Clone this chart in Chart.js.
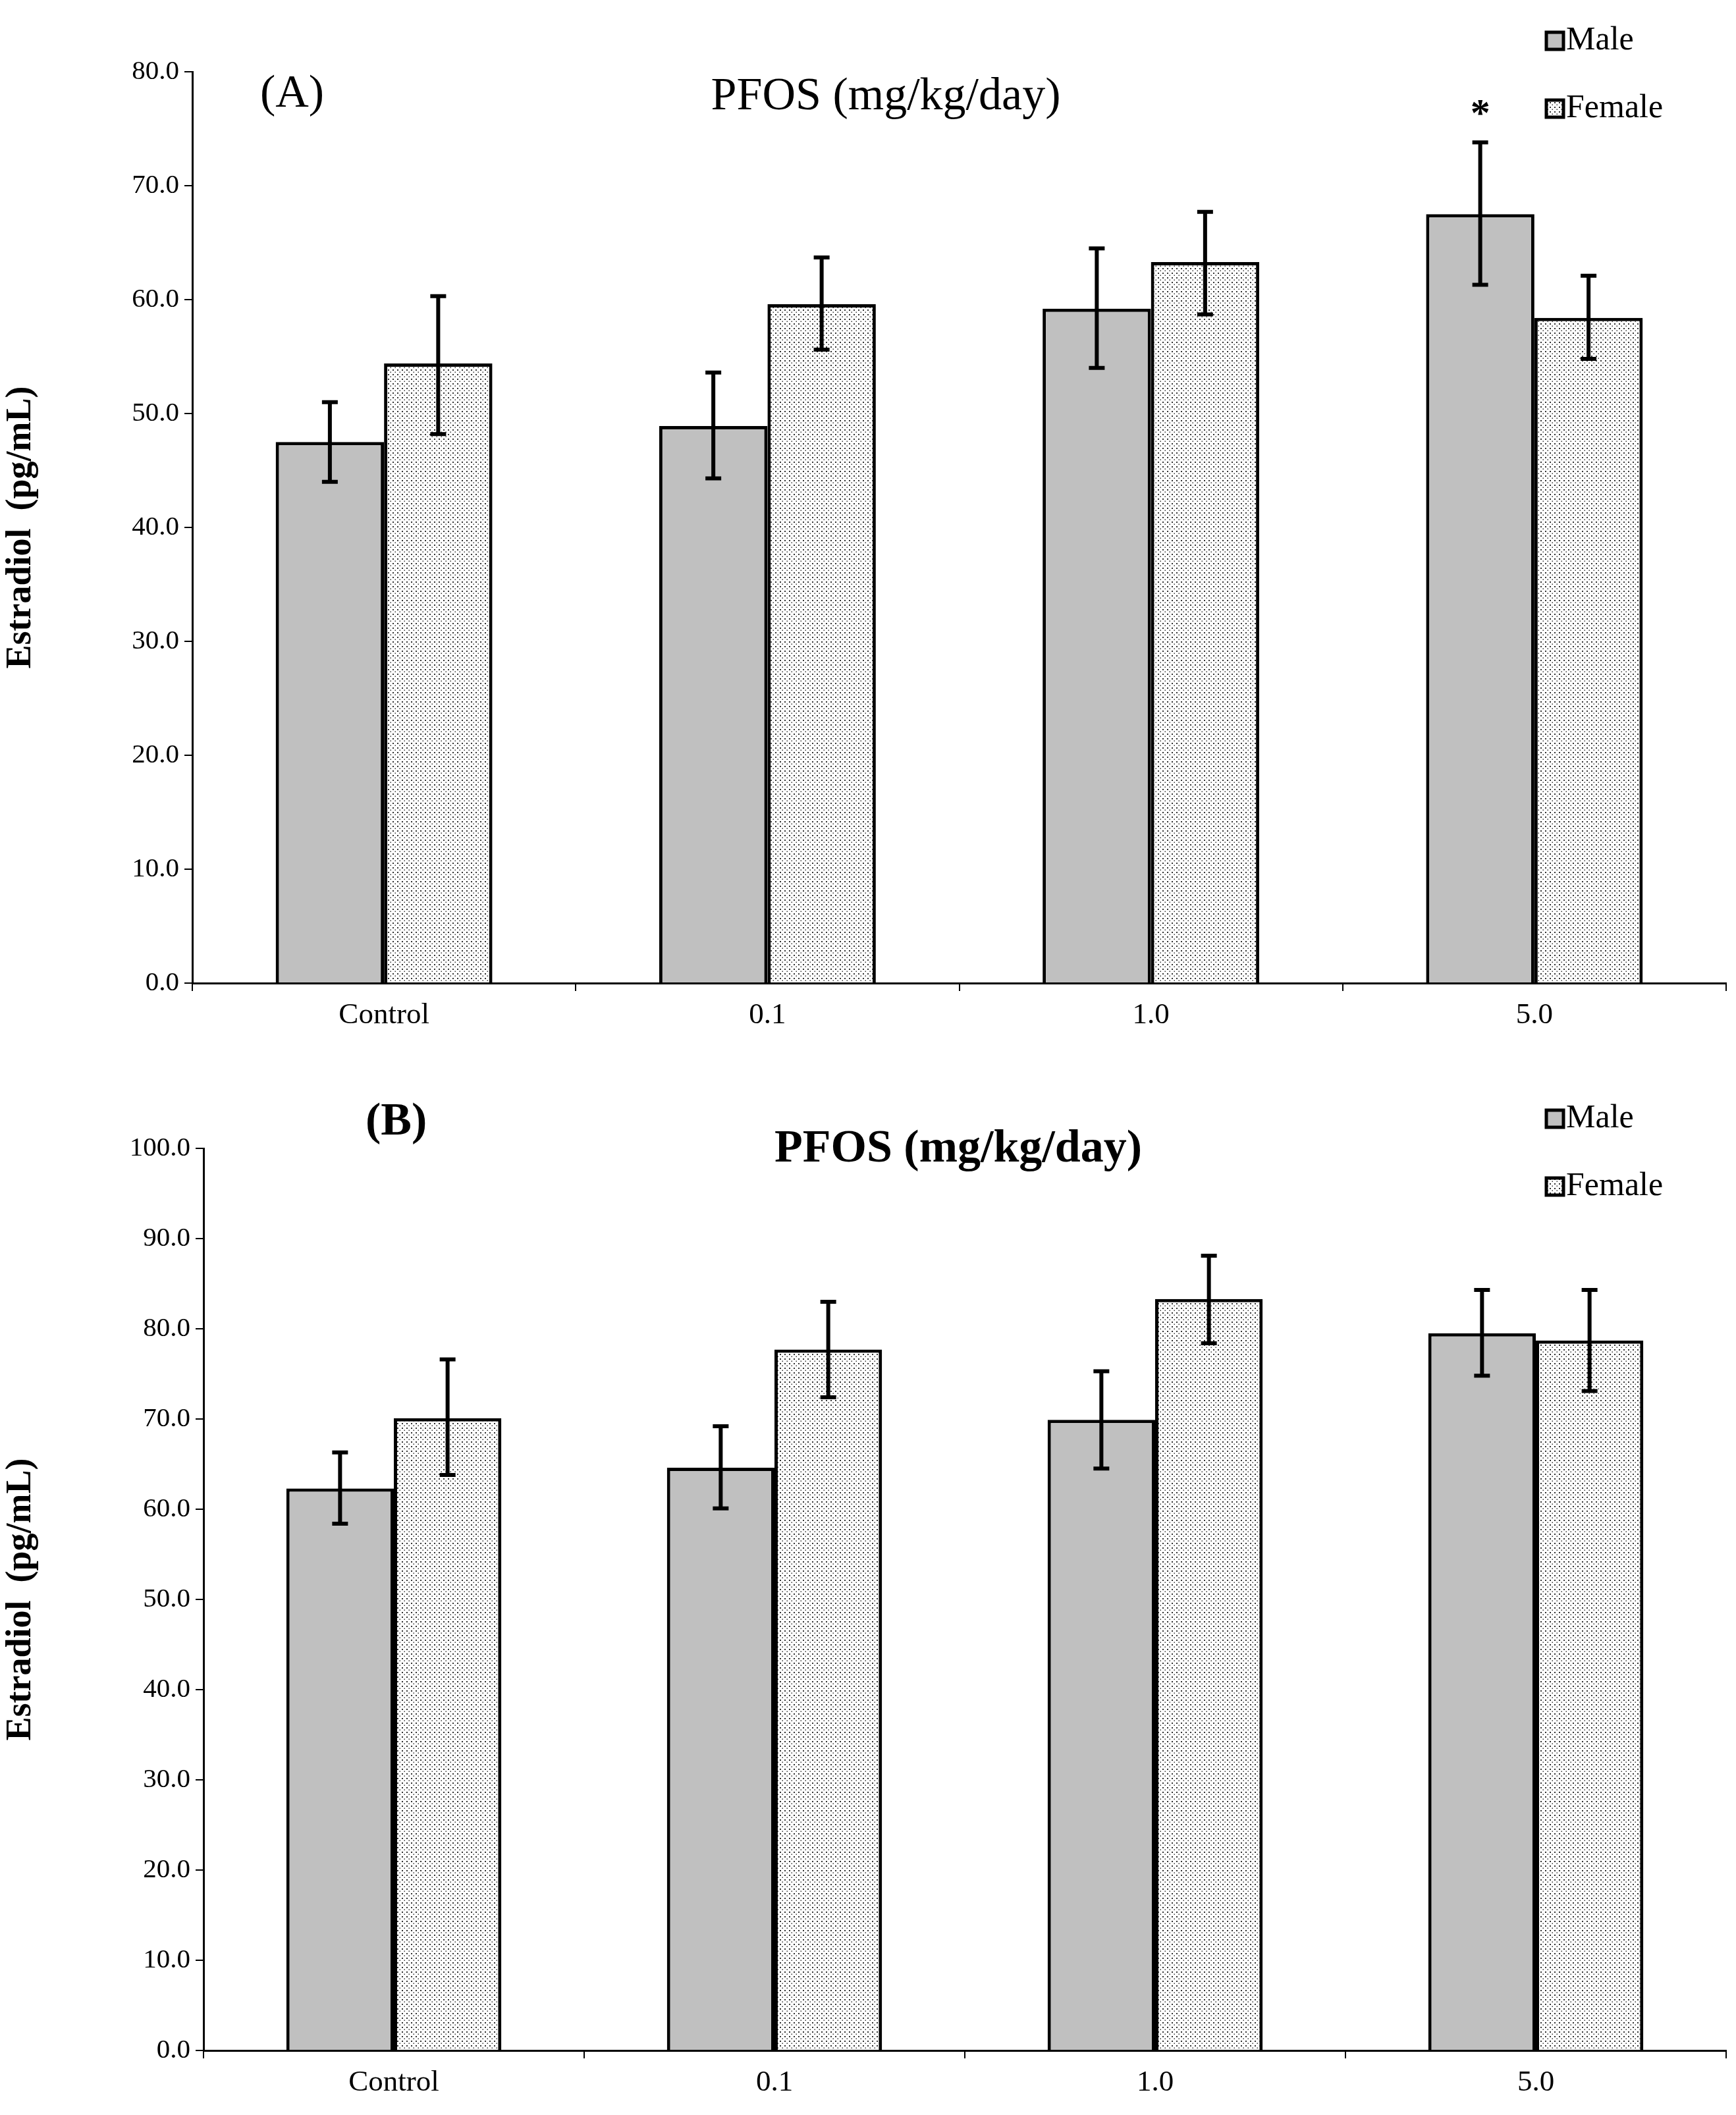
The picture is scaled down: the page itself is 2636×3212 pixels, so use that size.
<!DOCTYPE html>
<html>
<head>
<meta charset="utf-8">
<script src="https://cdn.jsdelivr.net/npm/chart.js@4.4.1/dist/chart.umd.min.js"></script>
<style>
  body { margin: 0; background: #fff; }
  .panel { position: absolute; left: 0; width: 2636px; }
</style>
</head>
<body>
<div class="panel" style="top:0;height:1600px"><canvas id="chartA"></canvas></div>
<div class="panel" style="top:1600px;height:1612px"><canvas id="chartB"></canvas></div>
<script>
// estradiol, mean and [low, high] of error bar
let labels = ['Control', '0.1', '1.0', '5.0'];
let panels = {
    A: {
        male: [47.5, 48.9, 59.2, 67.5],
        maleErr: [[44.0, 51.0], [44.3, 53.6], [54.0, 64.5], [61.3, 73.8]],
        female: [54.4, 59.6, 63.3, 58.4],
        femaleErr: [[48.2, 60.3], [55.6, 63.7], [58.7, 67.7], [54.8, 62.1]],
        yMax: 80, yWidth: 292, padTop: 109, xHeight: 107, bold: false
    },
    B: {
        male: [62.3, 64.6, 69.9, 79.5],
        maleErr: [[58.4, 66.3], [60.1, 69.2], [64.5, 75.3], [74.8, 84.3]],
        female: [70.1, 77.7, 83.3, 78.7],
        femaleErr: [[63.8, 76.6], [72.4, 83.0], [78.4, 88.1], [73.1, 84.3]],
        yMax: 100, yWidth: 309, padTop: 144, xHeight: 98, bold: true
    }
};

const serif = '"Liberation Serif", "DejaVu Serif", serif';

function dotPattern() {
    let c = document.createElement('canvas');
    c.width = 7; c.height = 7;
    let g = c.getContext('2d');
    g.fillStyle = '#fff';
    g.fillRect(0, 0, 7, 7);
    g.fillStyle = '#333';
    g.fillRect(1, 1, 2, 2);
    g.fillRect(4.5, 4.5, 1.5, 1.5);
    return g.createPattern(c, 'repeat');
}

// error bars, titles, legend and the star
const extras = {
    id: 'extras',
    afterDatasetsDraw(chart, args, opts) {
        let ctx = chart.ctx, y = chart.scales.y;
        ctx.save();
        ctx.strokeStyle = '#000';
        ctx.lineWidth = 6;
        chart.data.datasets.forEach((ds, i) => {
            chart.getDatasetMeta(i).data.forEach((bar, j) => {
                let [lo, hi] = ds.err[j];
                let x = bar.x, y1 = y.getPixelForValue(lo), y2 = y.getPixelForValue(hi);
                ctx.beginPath();
                ctx.moveTo(x, y1); ctx.lineTo(x, y2);
                ctx.moveTo(x - 12, y1); ctx.lineTo(x + 12, y1);
                ctx.moveTo(x - 12, y2); ctx.lineTo(x + 12, y2);
                ctx.stroke();
            });
        });
        ctx.fillStyle = '#000';
        ctx.textBaseline = 'middle';
        let w = opts.bold ? 'bold ' : '';
        ctx.font = w + '70px ' + serif;
        ctx.textAlign = 'center';
        ctx.fillText('PFOS (mg/kg/day)', opts.titleX, opts.titleY);
        ctx.textAlign = 'left';
        ctx.fillText(opts.tag, opts.tagX, opts.tagY);
        // legend
        ctx.font = '50px ' + serif;
        let items = [['Male', '#c0c0c0', opts.legY[0]], ['Female', dotPattern(), opts.legY[1]]];
        items.forEach(it => {
            ctx.fillStyle = it[1];
            ctx.fillRect(2348, it[2] - 13, 26, 26);
            ctx.lineWidth = 5;
            ctx.strokeRect(2348, it[2] - 13, 26, 26);
            ctx.fillStyle = '#000';
            ctx.fillText(it[0], 2378, it[2]);
        });
        if (opts.star) {
            let bar = chart.getDatasetMeta(0).data[3];
            ctx.font = 'bold 60px ' + serif;
            ctx.textAlign = 'center';
            ctx.fillText('*', bar.x, 175);
        }
        ctx.restore();
    }
};

function makeChart(id, p, opts) {
    new Chart(document.getElementById(id), {
        type: 'bar',
        data: {
            labels: labels,
            datasets: [{
                label: 'Male', data: p.male, err: p.maleErr,
                backgroundColor: '#c0c0c0', borderColor: '#000', borderWidth: 5,
                categoryPercentage: 0.565, barPercentage: 1.0
            }, {
                label: 'Female', data: p.female, err: p.femaleErr,
                backgroundColor: dotPattern(), borderColor: '#000', borderWidth: 5,
                categoryPercentage: 0.565, barPercentage: 1.0
            }]
        },
        plugins: [extras],
        options: {
            responsive: true,
            maintainAspectRatio: false,
            animation: false,
            layout: { padding: { top: p.padTop, right: 15, left: 0, bottom: 0 } },
            plugins: { legend: { display: false }, tooltip: { enabled: false }, extras: opts },
            scales: {
                x: {
                    afterFit(s) { s.height = p.xHeight; },
                    border: { color: '#000', width: 3 },
                    grid: { drawOnChartArea: false, color: '#000', lineWidth: 2, tickLength: 12 },
                    ticks: { color: '#000', font: { family: serif, size: 45 }, padding: 10 }
                },
                y: {
                    min: 0, max: p.yMax,
                    afterFit(s) { s.width = p.yWidth; },
                    border: { color: '#000', width: 3 },
                    grid: { drawOnChartArea: false, color: '#000', lineWidth: 2, tickLength: 12 },
                    ticks: { stepSize: 10, color: '#000', font: { family: serif, size: 41 },
                             callback: v => v.toFixed(1), padding: 8 },
                    title: { display: true, text: 'Estradiol  (pg/mL)', color: '#000',
                             font: { family: serif, size: 54, weight: 'bold' }, padding: 0 }
                }
            }
        }
    });
}

makeChart('chartA', panels.A, { bold: false, titleX: 1345, titleY: 148, tag: '(A)', tagX: 395, tagY: 144, legY: [62, 165], star: true });
makeChart('chartB', panels.B, { bold: true, titleX: 1455, titleY: 146, tag: '(B)', tagX: 555, tagY: 105, legY: [99, 202], star: false });
</script>
</body>
</html>
